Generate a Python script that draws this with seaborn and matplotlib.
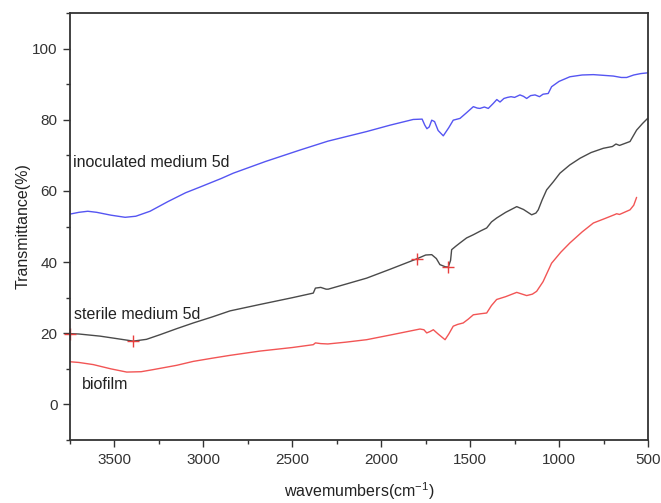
import matplotlib
matplotlib.use("Agg")
import matplotlib.pyplot as plt
import seaborn as sns
import pandas as pd
from matplotlib.ticker import MultipleLocator

# ---- data ----
inoc_wn = [3750, 3700, 3650, 3600, 3520, 3440, 3380, 3300, 3200, 3100, 3019, 2900, 2832, 2650,
           2457, 2300, 2082, 1950, 1820, 1770, 1755, 1743, 1730, 1716, 1700, 1680, 1651, 1620,
           1595, 1557, 1520, 1482, 1460, 1445, 1420, 1398, 1370, 1350, 1332, 1310, 1290, 1270,
           1250, 1220, 1200, 1182, 1160, 1135, 1110, 1090, 1061, 1042, 1000, 939, 870, 807, 750,
           695, 650, 620, 580, 540, 502]
inoc_T = [53.5, 54.0, 54.3, 54.0, 53.2, 52.6, 52.9, 54.3, 57.0, 59.5, 61.1, 63.5, 65.0, 68.3,
          71.5, 74.0, 76.7, 78.5, 80.1, 80.2, 78.5, 77.5, 78.0, 79.9, 79.5, 77.0, 75.5, 77.8,
          79.9, 80.4, 82.0, 83.7, 83.3, 83.2, 83.6, 83.2, 84.6, 85.7, 85.0, 86.0, 86.3, 86.5,
          86.3, 87.0, 86.6, 86.0, 86.8, 87.0, 86.5, 87.2, 87.4, 89.3, 90.8, 92.1, 92.6, 92.7, 92.5,
          92.3, 91.9, 91.9, 92.6, 93.0, 93.2]

sterile_wn = [3750, 3700, 3581, 3500, 3394, 3320, 3244, 3150, 3057, 2950, 2850, 2682, 2500, 2382,
              2370, 2340, 2310, 2298, 2200, 2082, 1950, 1801, 1750, 1716, 1690, 1670, 1640, 1623,
              1610, 1604, 1580, 1557, 1520, 1482, 1440, 1407, 1380, 1351, 1300, 1238, 1200, 1154,
              1130, 1117, 1095, 1070, 1032, 995, 940, 882, 820, 751, 700, 680, 660, 601, 564, 530, 502]
sterile_T = [19.9, 19.8, 19.2, 18.6, 17.8, 18.3, 19.6, 21.3, 22.9, 24.6, 26.3, 28.1, 30.0, 31.3,
             32.7, 32.9, 32.4, 32.4, 33.8, 35.5, 38.0, 40.9, 42.0, 42.1, 41.0, 39.3, 38.7, 38.6,
             40.5, 43.5, 44.5, 45.4, 46.8, 47.7, 48.8, 49.6, 51.3, 52.4, 54.0, 55.6, 54.8, 53.3,
             53.8, 54.7, 57.5, 60.3, 62.6, 65.0, 67.3, 69.2, 70.8, 72.0, 72.5, 73.2, 72.8, 73.9, 77.1, 79.0, 80.4]

biofilm_wn = [3750, 3700, 3619, 3520, 3431, 3350, 3281, 3150, 3057, 2950, 2850, 2682, 2500, 2382,
              2370, 2340, 2300, 2200, 2082, 1950, 1782, 1760, 1744, 1725, 1707, 1680, 1641, 1620,
              1595, 1570, 1539, 1510, 1482, 1440, 1407, 1380, 1351, 1300, 1238, 1182, 1150, 1126,
              1090, 1042, 990, 939, 870, 807, 740, 690, 676, 660, 601, 580, 564]
biofilm_T = [12.0, 11.8, 11.2, 10.0, 9.1, 9.2, 9.8, 11.0, 12.1, 13.0, 13.8, 15.0, 16.0, 16.8,
             17.3, 17.1, 17.0, 17.5, 18.2, 19.5, 21.2, 21.0, 20.1, 20.5, 21.0, 19.8, 18.2, 19.8,
             22.0, 22.5, 22.9, 24.0, 25.2, 25.5, 25.7, 27.8, 29.5, 30.3, 31.5, 30.6, 31.0, 31.8,
             34.5, 39.7, 42.8, 45.4, 48.5, 51.0, 52.3, 53.3, 53.6, 53.4, 54.7, 56.0, 58.2]

marker_wn = [3750, 3394, 1801, 1623]
marker_T = [19.9, 17.8, 40.9, 38.6]

series_labels = ["inoculated medium 5d", "sterile medium 5d", "biofilm"]
label_wn = [3735, 3725, 3685]
label_T = [67.9, 25.2, 5.6]

x_ticks = [3500, 3000, 2500, 2000, 1500, 1000, 500]
y_ticks = [0, 20, 40, 60, 80, 100]

# ---- plotting ----
sns.set_style("white")
plt.rcParams['font.family'] = ['Liberation Sans', 'DejaVu Sans']
plt.rcParams['mathtext.fontset'] = 'custom'
plt.rcParams['mathtext.rm'] = 'Liberation Sans'
plt.rcParams['mathtext.default'] = 'regular'

fig = plt.figure(figsize=(6.61, 5.03), dpi=100)
ax = fig.add_axes([0.1059, 0.1252, 0.8744, 0.8488])

df_i = pd.DataFrame({"wn": inoc_wn, "T": inoc_T})
df_s = pd.DataFrame({"wn": sterile_wn, "T": sterile_T})
df_b = pd.DataFrame({"wn": biofilm_wn, "T": biofilm_T})

sns.lineplot(data=df_i, x="wn", y="T", ax=ax, sort=False, color="#5555f2", lw=1.0)
sns.lineplot(data=df_s, x="wn", y="T", ax=ax, sort=False, color="#4a4a4a", lw=1.0)
sns.lineplot(data=df_b, x="wn", y="T", ax=ax, sort=False, color="#f25555", lw=1.0)
ax.plot(marker_wn, marker_T, ls="none", marker="+", ms=8, mew=1.0, color="#e8403f", clip_on=False)

for txt, xw, yt in zip(series_labels, label_wn, label_T):
    ax.text(xw, yt, txt, fontsize=11.5, color="#222222", ha="left", va="center")

ax.set_xlim(3750, 500)
ax.set_ylim(-10, 110)
ax.set_xticks(x_ticks)
ax.set_yticks(y_ticks)
ax.xaxis.set_minor_locator(MultipleLocator(250))
ax.yaxis.set_minor_locator(MultipleLocator(10))
ax.tick_params(axis="both", which="major", direction="out", length=5, width=1.0,
               labelsize=11, colors="#333333", bottom=True, left=True, top=False, right=False, pad=4)
ax.tick_params(axis="both", which="minor", direction="out", length=3, width=1.0,
               bottom=True, left=True, top=False, right=False, colors="#333333")
for s in ax.spines.values():
    s.set_color("#333333")
    s.set_linewidth(1.3)

ax.set_xlabel("wavemumbers(cm$^{-1}$)", fontsize=11.5, color="#222222", labelpad=10)
ax.set_ylabel("Transmittance(%)", fontsize=11.5, color="#222222", labelpad=1)

fig.savefig("out.png", dpi=100)
